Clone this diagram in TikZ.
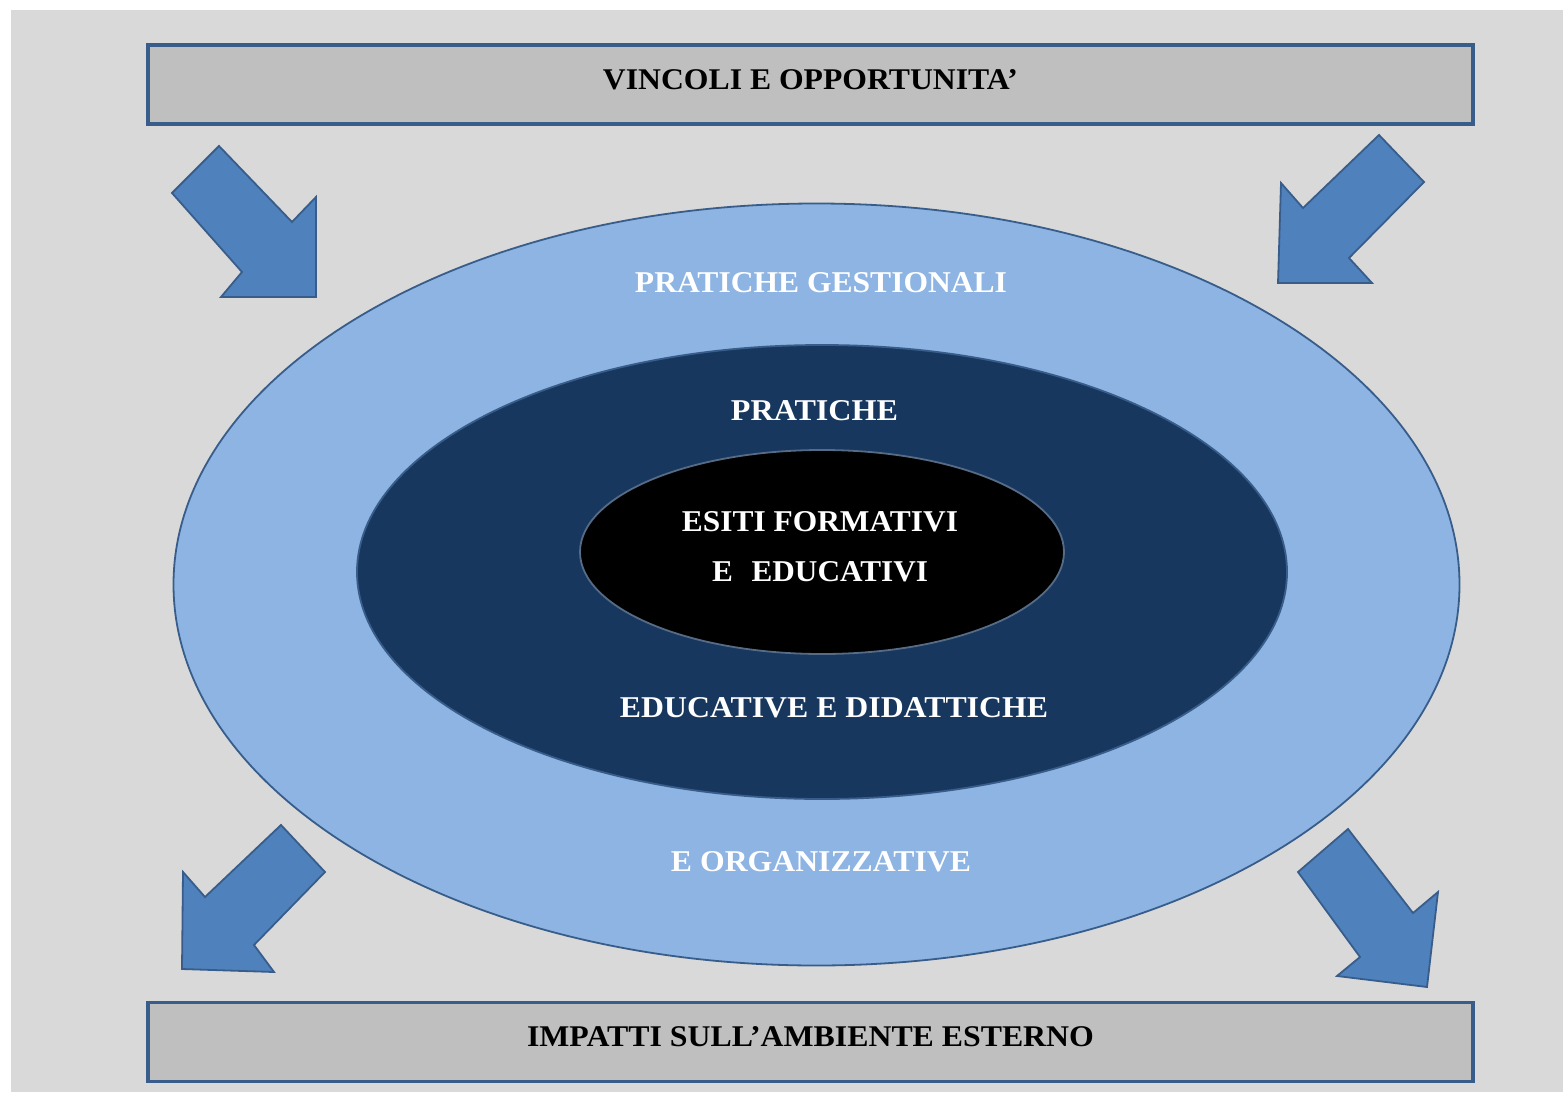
\documentclass[tikz,border=0pt]{standalone}
\usepackage{fontspec}
\setmainfont{Liberation Serif}
\usepackage{graphicx}
\usetikzlibrary{shapes.geometric}
\definecolor{bggray}{HTML}{D9D9D9}
\definecolor{boxgray}{HTML}{BFBFBF}
\definecolor{edgeblue}{HTML}{385D8A}
\definecolor{lightblue}{HTML}{8DB4E2}
\definecolor{navy}{HTML}{17375E}
\definecolor{arrowblue}{HTML}{4F81BD}
\newcommand{\lbl}[2]{\resizebox{#1pt}{20pt}{\bfseries #2}}
\tikzset{
  bar/.style={draw=edgeblue, line width=3.5pt, fill=boxgray, minimum width=1325pt, minimum height=79pt, inner sep=0pt},
  ring/.style={ellipse, inner sep=0pt, line width=1.8pt},
  blockarrow/.style={fill=arrowblue, draw=edgeblue, line width=1.8pt, line join=miter},
  txt/.style={inner sep=0pt, anchor=center}
}
\begin{document}
\begin{tikzpicture}[x=1pt,y=-1pt]
\useasboundingbox (0,0) rectangle (1563,1092);
\fill[white] (0,0) rectangle (1563,1092);
\fill[bggray] (11,10) rectangle (1563,1092);

\node[bar] (top) at (810.5,84.5) {};
\node[bar] (bottom) at (810.5,1042) {};
\node[txt] (toptxt) at (810.5,80) {\lbl{415}{VINCOLI E OPPORTUNITA’}};
\node[txt] (bottxt) at (810.5,1037) {\lbl{567}{IMPATTI SULL’AMBIENTE ESTERNO}};

% arrows
\draw[blockarrow] (219,146) -- (292,222) -- (316,197) -- (316,297) -- (221,297) -- (242,272) -- (172,193) -- cycle;
\draw[blockarrow] (1379,135) -- (1424,182) -- (1349,258) -- (1372,283) -- (1278,283) -- (1281,183) -- (1303,208) -- cycle;
\draw[blockarrow] (281,825) -- (325,872) -- (254,945) -- (274,972) -- (182,969) -- (183,872) -- (205,897) -- cycle;
\draw[blockarrow] (1348,829) -- (1298,872) -- (1360,957) -- (1337,976) -- (1427,987) -- (1438,892) -- (1413,913) -- cycle;

% ellipses
\node[ring, draw=edgeblue, fill=lightblue, minimum width=1286pt, minimum height=762pt] (outer) at (816.5,584.5) {};
\node[ring, draw=edgeblue, fill=navy, minimum width=930pt, minimum height=454pt] (middle) at (822,572) {};
\node[ring, draw=edgeblue!60!gray, fill=black, minimum width=484pt, minimum height=204pt] (inner) at (822,552) {};

\node[txt, text=white] (pg) at (821,283) {\lbl{372}{PRATICHE GESTIONALI}};
\node[txt, text=white] (pr) at (814.5,411) {\lbl{167}{PRATICHE}};
\node[txt, text=white] (es) at (820,522) {\lbl{276}{ESITI FORMATIVI}};
\node[txt, text=white] (ee) at (820,572) {\lbl{216}{E\hspace{0.6em}EDUCATIVI}};
\node[txt, text=white] (ed) at (834,708) {\lbl{428}{EDUCATIVE E DIDATTICHE}};
\node[txt, text=white] (eo) at (821,862) {\lbl{300}{E ORGANIZZATIVE}};
\end{tikzpicture}
\end{document}
